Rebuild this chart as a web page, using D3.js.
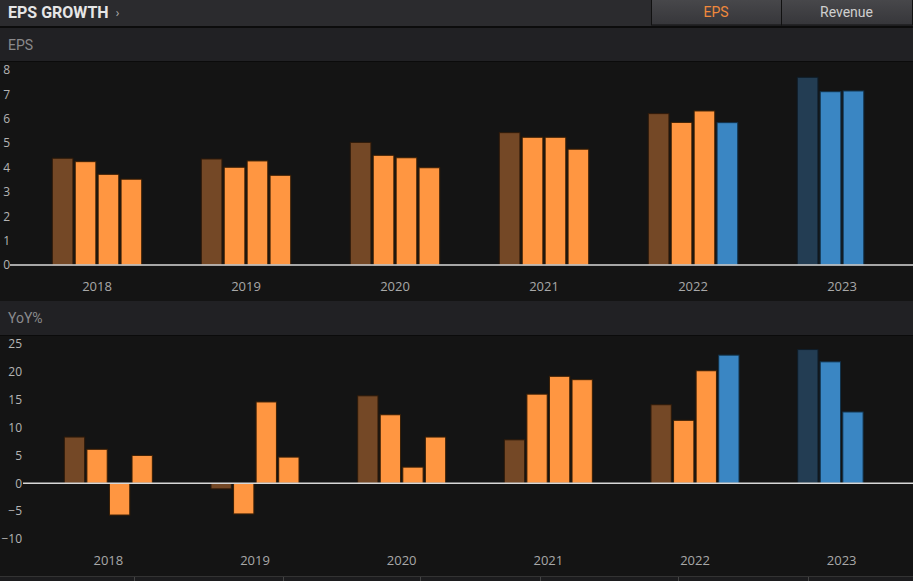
<!DOCTYPE html>
<html>
<head>
<meta charset="utf-8">
<script src="https://cdn.jsdelivr.net/npm/d3@7"></script>
<style>
  body { margin: 0; background: #141414; }
  svg { display: block; }
</style>
</head>
<body>
<div id="chart"></div>
<script>
// data
var years = ["2018", "2019", "2020", "2021", "2022", "2023"];
var epsValues = [
  [4.38, 4.24, 3.72, 3.52],
  [4.35, 4.01, 4.27, 3.68],
  [5.03, 4.50, 4.40, 3.99],
  [5.43, 5.24, 5.24, 4.75],
  [6.21, 5.85, 6.32, 5.84],
  [7.70, 7.11, 7.14]
];
var yoyValues = [
  [8.3, 6.1, -5.7, 5.0],
  [-1.0, -5.5, 14.6, 4.7],
  [15.7, 12.3, 2.9, 8.3],
  [7.8, 16.0, 19.2, 18.6],
  [14.1, 11.3, 20.2, 23.0],
  [24.0, 21.8, 12.8]
];
// a = annual actual, q = quarterly actual, ae = annual estimate, qe = quarterly estimate
var barTypes = [
  ["a", "q", "q", "q"],
  ["a", "q", "q", "q"],
  ["a", "q", "q", "q"],
  ["a", "q", "q", "q"],
  ["a", "q", "q", "qe"],
  ["ae", "qe", "qe"]
];
var epsTicks = [0, 1, 2, 3, 4, 5, 6, 7, 8];
var yoyTicks = [-10, -5, 0, 5, 10, 15, 20, 25];

var fills = { a: "#744826", q: "#ff9641", ae: "#233d53", qe: "#3a86c3" };
var strokes = { a: "#2e1a0a", q: "#3a1f05", ae: "#0f1d29", qe: "#12324a" };

var W = 913, H = 581;
var svg = d3.select("#chart").append("svg")
  .attr("width", W).attr("height", H)
  .style("font-family", "'Open Sans', sans-serif");

// header
svg.append("rect").attr("x", 0).attr("y", 0).attr("width", W).attr("height", 26).attr("fill", "#2b2b2e");
svg.append("rect").attr("x", 0).attr("y", 26).attr("width", W).attr("height", 2).attr("fill", "#0c0c0c");
var title = svg.append("text").attr("x", 8).attr("y", 18)
  .style("font-family", "Roboto, sans-serif").style("font-weight", "bold")
  .style("font-size", "16px").attr("fill", "#e6e6e6")
  .text("EPS GROWTH");
var tw = title.node().getComputedTextLength();
svg.append("text").attr("x", 8 + tw + 7).attr("y", 17)
  .style("font-size", "12px").attr("fill", "#aaa").text("›");

var grad = svg.append("defs").append("linearGradient").attr("id", "btn")
  .attr("x1", 0).attr("y1", 0).attr("x2", 0).attr("y2", 1);
grad.append("stop").attr("offset", "0%").attr("stop-color", "#48484b");
grad.append("stop").attr("offset", "100%").attr("stop-color", "#36363a");

var buttons = [{ label: "EPS", x: 651, w: 130, color: "#f0893c" }, { label: "Revenue", x: 781, w: 131, color: "#cfcfcf" }];
buttons.forEach(function(b) {
  svg.append("rect").attr("x", b.x + 0.5).attr("y", -1).attr("width", b.w).attr("height", 26)
    .attr("fill", "url(#btn)").attr("stroke", "#111").attr("stroke-width", 1);
  svg.append("text").attr("x", b.x + b.w / 2).attr("y", 17).attr("text-anchor", "middle")
    .style("font-family", "Roboto, sans-serif").style("font-size", "14px")
    .attr("fill", b.color).text(b.label);
});

// section bands
function band(y, h, label) {
  svg.append("rect").attr("x", 0).attr("y", y).attr("width", W).attr("height", h).attr("fill", "#212124");
  svg.append("rect").attr("x", 0).attr("y", y + h).attr("width", W).attr("height", 1).attr("fill", "#0b0b0b");
  svg.append("text").attr("x", 8).attr("y", y + h / 2 + 5)
    .style("font-family", "Roboto, sans-serif").style("font-size", "14px")
    .attr("fill", "#8a8a8c").text(label);
}
band(28, 33, "EPS");
band(301, 34, "YoY%");

function panel(values, ticks, yDomain, yRange, xRange, labelX, lineX, yearY) {
  var g = svg.append("g");

  var x0 = d3.scaleBand().domain(years).range(xRange);
  var groupW = x0.bandwidth() * 0.6;
  var x1 = d3.scaleBand().domain(d3.range(4)).range([0, groupW]).paddingInner(0.1);
  var y = d3.scaleLinear().domain(yDomain).range(yRange);

  // y axis labels
  var yAxis = g.append("g")
    .attr("transform", "translate(" + labelX + ",0)")
    .call(d3.axisLeft(y).tickValues(ticks).tickSize(0).tickPadding(0).tickFormat(d3.format("d")));
  yAxis.select(".domain").remove();
  yAxis.selectAll("text").attr("fill", "#b4b4b4").style("font-size", "12px")
    .style("font-family", "'Open Sans', sans-serif");

  // bars
  years.forEach(function(yr, i) {
    var gx = x0(yr) + (x0.bandwidth() - groupW) / 2;
    g.append("g").selectAll("rect")
      .data(values[i])
      .enter()
      .append("rect")
        .attr("x", function(d, j) { return gx + x1(j); })
        .attr("y", function(d) { return y(Math.max(0, d)); })
        .attr("width", x1.bandwidth())
        .attr("height", function(d) { return Math.abs(y(d) - y(0)); })
        .attr("fill", function(d, j) { return fills[barTypes[i][j]]; })
        .attr("stroke", function(d, j) { return strokes[barTypes[i][j]]; })
        .attr("stroke-width", 1);
  });

  // zero line
  g.append("line")
    .attr("x1", lineX).attr("x2", W)
    .attr("y1", y(0)).attr("y2", y(0))
    .attr("stroke", "#d8d8d8").attr("stroke-width", 1.5);

  // year labels
  g.append("g").selectAll("text")
    .data(years)
    .enter()
    .append("text")
      .attr("x", function(d) { return x0(d) + x0.bandwidth() / 2; })
      .attr("y", yearY)
      .attr("text-anchor", "middle")
      .attr("fill", "#a8a8a8")
      .style("font-size", "13px")
      .text(function(d) { return d; });
}

panel(epsValues, epsTicks, [0, 8], [265, 70], [22.5, 916.5], 10, 10, 291);
panel(yoyValues, yoyTicks, [-10, 25], [539, 344], [35, 915], 22, 23, 565);

// table header strip at the bottom
svg.append("rect").attr("x", 0).attr("y", 576).attr("width", W).attr("height", 5).attr("fill", "#1c1c1e");
svg.append("line").attr("x1", 0).attr("x2", W).attr("y1", 576.5).attr("y2", 576.5).attr("stroke", "#333");
var dividers = [134.5, 283.5, 420.5, 540.5, 678.5, 808.5];
svg.append("g").selectAll("line").data(dividers).enter().append("line")
  .attr("x1", function(d) { return d; }).attr("x2", function(d) { return d; })
  .attr("y1", 577).attr("y2", H).attr("stroke", "#444");
</script>
</body>
</html>
